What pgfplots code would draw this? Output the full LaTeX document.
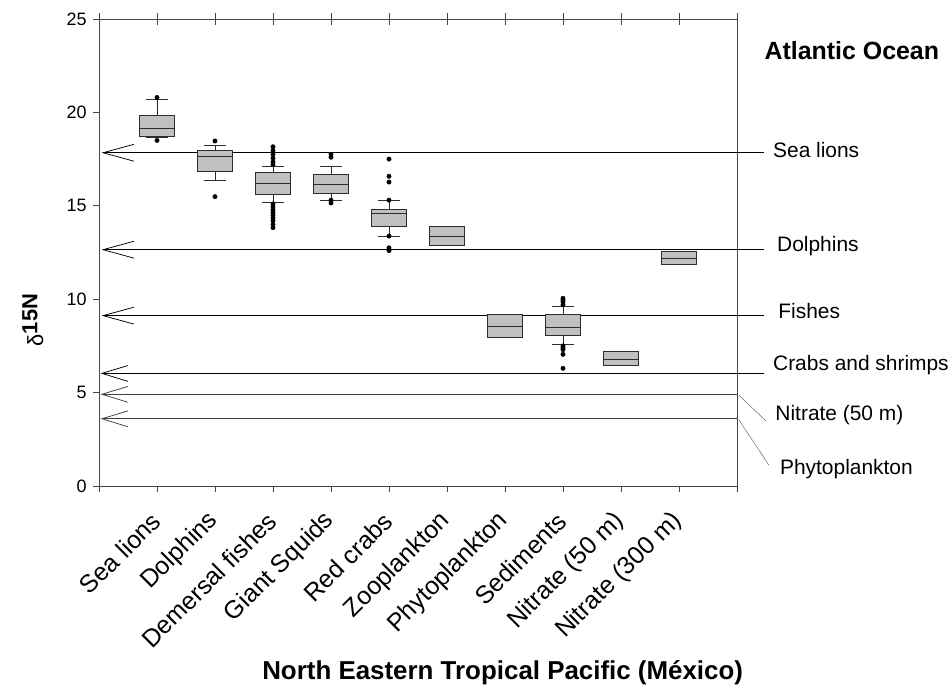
\documentclass[border=0pt]{standalone}
\usepackage{fontspec}
\setmainfont{Liberation Sans}
\usepackage{pgfplots}
\pgfplotsset{compat=1.18}
\usepgfplotslibrary{statistics}
\definecolor{boxgray}{RGB}{192,192,192}
\definecolor{edge}{RGB}{45,45,45}
\definecolor{axgray}{RGB}{70,70,70}
\begin{document}
\begin{tikzpicture}
\pgfplotsset{every axis/.append style={scale only axis, width=638bp, height=467bp, xmin=0, xmax=11, ymin=0, ymax=25}}
\begin{axis}[
  axis line style={axgray, line width=0.8pt},
  clip=false,
  xtick={0,...,11},
  xticklabels={,Sea lions,Dolphins,Demersal fishes,Giant Squids,Red crabs,Zooplankton,Phytoplankton,Sediments,Nitrate (50 m),Nitrate (300 m),},
  xtick pos=bottom, ytick pos=left,
  ytick={0,5,...,25},
  tick align=outside,
  major tick length=6bp,
  tick style={axgray, line width=0.8pt},
  xticklabel style={rotate=45, anchor=east, font=\fontsize{25}{27}\selectfont, inner sep=1bp, yshift=-17bp, xshift=-17bp},
  yticklabel style={font=\fontsize{18}{20}\selectfont, xshift=-3bp},
  /pgf/number format/assume math mode=true,
  boxplot/draw direction=y,
  boxplot/box extend=0.6, boxplot/whisker extend=0.38,
]
\coordinate (O) at (rel axis cs:0,0);
% reference lines (Atlantic Ocean)
\pgfplotsset{refl/.style={black, line width=0.75pt, mark=none, forget plot}}
\addplot[refl] coordinates {(0.07,17.84) (11.47,17.84)};
\addplot[refl] coordinates {(0.6,18.29) (0.07,17.84) (0.6,17.39)};
\addplot[refl] coordinates {(0.07,12.65) (11.47,12.65)};
\addplot[refl] coordinates {(0.6,13.1) (0.07,12.65) (0.6,12.2)};
\addplot[refl] coordinates {(0.07,9.12) (11.47,9.12)};
\addplot[refl] coordinates {(0.6,9.57) (0.07,9.12) (0.6,8.67)};
\addplot[refl] coordinates {(0.05,6.03) (11.47,6.03)};
\addplot[refl] coordinates {(0.5,6.45) (0.05,6.03) (0.5,5.6)};
\addplot[refl, black!75] coordinates {(0.05,4.91) (11,4.91)};
\addplot[refl, black!75] coordinates {(0.5,5.33) (0.05,4.91) (0.5,4.48)};
\addplot[refl, black!75] coordinates {(0.05,3.6) (11,3.6)};
\addplot[refl, black!75] coordinates {(0.5,4.02) (0.05,3.6) (0.5,3.17)};
\addplot[refl, black!60, line width=0.5pt] coordinates {(11.03,4.87) (11.5,3.48)};
\addplot[refl, black!60, line width=0.5pt] coordinates {(11.03,3.55) (11.55,1.12)};
% box plots
\pgfplotsset{bx/.style={fill=boxgray, draw=edge, line width=1pt, mark=none, forget plot}}
\addplot[bx, boxplot prepared={draw position=1, lower whisker=18.63, lower quartile=18.70, median=19.15, upper quartile=19.84, upper whisker=20.67}] coordinates {};
\addplot[bx, boxplot prepared={draw position=2, lower whisker=16.37, lower quartile=16.85, median=17.65, upper quartile=17.97, upper whisker=18.24}] coordinates {};
\addplot[bx, boxplot prepared={draw position=3, lower whisker=15.15, lower quartile=15.62, median=16.2, upper quartile=16.79, upper whisker=17.11}] coordinates {};
\addplot[bx, boxplot prepared={draw position=4, lower whisker=15.29, lower quartile=15.67, median=16.15, upper quartile=16.69, upper whisker=17.11}] coordinates {};
\addplot[bx, boxplot prepared={draw position=5, lower whisker=13.33, lower quartile=13.9, median=14.58, upper quartile=14.78, upper whisker=15.26}] coordinates {};
\addplot[bx, boxplot prepared={draw position=6, lower whisker=12.9, lower quartile=12.9, median=13.38, upper quartile=13.87, upper whisker=13.87}] coordinates {};
\addplot[bx, boxplot prepared={draw position=7, lower whisker=7.96, lower quartile=7.96, median=8.55, upper quartile=9.17, upper whisker=9.17}] coordinates {};
\addplot[bx, boxplot prepared={draw position=8, lower whisker=7.59, lower quartile=8.07, median=8.5, upper quartile=9.17, upper whisker=9.6}] coordinates {};
\addplot[bx, boxplot prepared={draw position=9, lower whisker=6.46, lower quartile=6.46, median=6.78, upper quartile=7.21, upper whisker=7.21}] coordinates {};
\addplot[bx, boxplot prepared={draw position=10, lower whisker=11.88, lower quartile=11.88, median=12.17, upper quartile=12.53, upper whisker=12.53}] coordinates {};
% outliers
\addplot[only marks, mark=*, mark size=2.2bp, black, forget plot] coordinates {
 (1,20.8) (1,18.5)
 (2,18.47) (2,15.49)
 (3,18.16) (3,17.95) (3,17.75) (3,17.55) (3,17.35) (3,17.2)
 (3,15.1) (3,14.95) (3,14.8) (3,14.65) (3,14.5) (3,14.35) (3,14.2) (3,14.0) (3,13.83)
 (4,17.76) (4,17.6) (4,15.3) (4,15.15)
 (5,17.5) (5,16.58) (5,16.27) (5,15.3) (5,13.38) (5,12.75) (5,12.6)
 (8,10.05) (8,9.95) (8,9.85) (8,9.7) (8,7.5) (8,7.4) (8,7.3) (8,7.05) (8,6.3)
};
% labels
\node[anchor=west, font=\fontsize{21}{23}\selectfont, inner sep=0pt] at (axis cs:11.62,17.97) {Sea lions};
\node[anchor=west, font=\fontsize{21}{23}\selectfont, inner sep=0pt] at (axis cs:11.69,12.83) {Dolphins};
\node[anchor=west, font=\fontsize{21}{23}\selectfont, inner sep=0pt] at (axis cs:11.71,9.36) {Fishes};
\node[anchor=west, font=\fontsize{21}{23}\selectfont, inner sep=0pt] at (axis cs:11.62,6.47) {Crabs and shrimps};
\node[anchor=west, font=\fontsize{21}{23}\selectfont, inner sep=0pt] at (axis cs:11.66,3.80) {Nitrate (50 m)};
\node[anchor=west, font=\fontsize{21}{23}\selectfont, inner sep=0pt] at (axis cs:11.74,0.91) {Phytoplankton};
\node[font=\fontsize{25}{27}\selectfont\bfseries, inner sep=0pt] at (axis cs:12.98,23.3) {Atlantic Ocean};
\node[font=\fontsize{26}{28}\selectfont\bfseries, inner sep=0pt] at (axis cs:6.96,-10.0) {North Eastern Tropical Pacific (México)};
\node[rotate=90, font=\fontsize{22}{24}\selectfont, inner sep=0pt] at (axis cs:-1.14,8.88) {δ\raisebox{0.5ex}{\bfseries 15N}};
\end{axis}
\begin{axis}[
  axis x line*=top, axis y line=none,
  axis line style={axgray, line width=0.8pt},
  xtick={0,...,11}, xticklabels={},
  tick align=center, major tick length=12bp,
  tick style={axgray, line width=0.8pt},
]
\addplot[draw=none] coordinates {(0,0)};
\end{axis}
\pgfresetboundingbox
\path (O) ++(-99bp,-210bp) rectangle ++(952bp,696bp);
\end{tikzpicture}
\end{document}
